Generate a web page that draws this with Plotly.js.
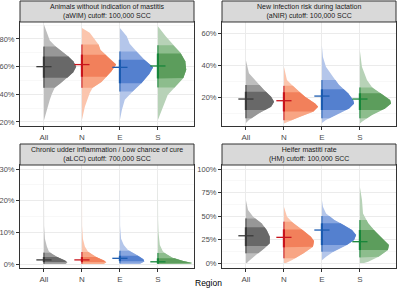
<!DOCTYPE html>
<html><head><meta charset="utf-8">
<script src="https://cdn.plot.ly/plotly-3.0.1.min.js"></script>
<style>html,body{margin:0;padding:0;background:#fff}#chart{width:400px;height:292px}</style>
</head><body><div id="chart"></div>
<script>
const regions = ['All', 'N', 'E', 'S'];
const stripTitles = [
  'Animals without indication of mastitis<br>(aWIM) cutoff: 100,000 SCC',
  'New infection risk during lactation<br>(aNIR) cutoff: 100,000 SCC',
  'Chronic udder inflammation / Low chance of cure<br>(aLCC) cutoff: 700,000 SCC',
  'Heifer mastiti rate<br>(HM) cutoff: 100,000 SCC'
];
const xTitle = 'Region';

// aWIM (%)
const aWIM_y = [
  [21, 26.5, 31, 36, 40, 44.7, 48, 52, 56, 60, 64, 67.3, 71, 74.5, 79, 84.5, 90.5],
  [21.5, 31, 41, 44.7, 49, 52.7, 56.5, 61.5, 66.5, 68.7, 72, 76, 80, 84.5, 88],
  [21.5, 28.7, 36, 42, 48, 54.7, 59.5, 65, 71, 76.6, 82, 88],
  [21.5, 31, 39.6, 45.7, 51.8, 57.8, 63.9, 70, 76, 82, 89.3]
];
const aWIM_d = [
  [0, 2, 4, 6, 8, 11, 17, 24, 30, 33, 30, 25, 18, 12, 6, 3, 0],
  [0, 3, 8, 11, 20, 25, 30, 35, 27, 24, 19, 17, 13, 8, 0],
  [0, 2, 5, 13, 22, 30, 34, 25, 17, 10, 7, 0],
  [0, 5, 10, 18, 26, 29, 28, 23, 15, 8, 0]
];
const aWIM_median = [60, 61.5, 59.5, 60.5];
const aWIM_outer = [[44.7, 74.5], [44.7, 76], [42, 71], [45, 75.5]];
const aWIM_inner = [[52, 67.3], [52.7, 68.7], [48, 65], [51.5, 69.5]];

// aNIR (%)
const aNIR_y = [
  [3.7, 5.6, 9.8, 14, 17, 20.2, 24.4, 28.5, 34.8, 43],
  [3.5, 4.6, 7.7, 10.8, 14, 16, 20.2, 24.4, 30.6, 39],
  [3.7, 5.6, 8.75, 12.9, 16, 18.1, 22.3, 27.5, 32.7, 39, 45, 52],
  [3.5, 4.6, 8.75, 12.9, 16, 18.1, 21.25, 25.4, 30.6, 39, 49]
];
const aNIR_d = [
  [0, 3, 13, 25, 28, 25, 18, 12, 3, 0],
  [0, 4, 16, 29, 34, 31, 21, 13, 3, 0],
  [0, 4, 14, 27, 32, 31, 26, 17, 11, 4, 1, 0],
  [0, 2, 12, 25, 31, 30, 23, 13, 7, 2, 0]
];
const aNIR_median = [18.75, 17.7, 20.6, 18.75];
const aNIR_outer = [[6.7, 27.5], [5.5, 27], [6.7, 30.6], [6.7, 26]];
const aNIR_inner = [[11.9, 23.3], [11, 23], [11.9, 24.8], [11.9, 22.3]];

// aLCC (%)
const aLCC_y = [
  [0, 0.5, 1.2, 2, 3, 4, 5.5, 8, 12, 29],
  [0, 0.5, 1.2, 2, 3, 4, 5.5, 8, 12, 29],
  [0, 0.8, 1.5, 2.5, 3.5, 4.5, 6, 8, 12, 29],
  [0, 0.3, 1, 2, 3, 4, 6, 10, 14, 29]
];
const aLCC_d = [
  [22, 24, 21, 15, 9, 5, 3, 1, 0.2, 0],
  [22, 25, 22, 16, 10, 6, 3, 1, 0.2, 0],
  [20, 25, 24, 19, 13, 8, 4, 1.2, 0.2, 0],
  [33, 35, 25, 15, 9, 5, 2, 0.6, 0.2, 0]
];
const aLCC_median = [1.3, 1.3, 1.8, 0.7];
const aLCC_outer = [[0.05, 3.6], [0.05, 3.8], [0.2, 4.2], [0, 3.5]];
const aLCC_inner = [[0.6, 2.2], [0.6, 2.2], [0.9, 2.6], [0.15, 1.8]];

// HM (%)
const HM_y = [
  [0, 1.4, 8.5, 15.6, 21, 28, 35.1, 42.2, 49.3, 56.4, 67],
  [0, 3.2, 10.3, 17.3, 23.4, 28, 35.1, 42.2, 49.3, 60],
  [3, 6.7, 12, 19.1, 24.5, 29.8, 35.1, 40.4, 45.7, 52.8, 60, 67],
  [0, 1.4, 6.7, 13.8, 19.1, 24.5, 33.3, 42.2, 52.8, 67, 81]
];
const HM_d = [
  [1, 2, 10, 18, 23, 23, 20, 15, 7, 2, 0],
  [2, 8, 19, 28, 29, 26, 18, 9, 3, 0],
  [0, 4, 11, 24, 31, 33, 29, 21, 12, 4, 1, 0],
  [4, 8, 18, 27, 28, 23, 15, 8, 3, 2, 0]
];
const HM_median = [29, 27.3, 35.1, 22.7];
const HM_outer = [[10.3, 47.5], [5, 44], [12, 50], [6, 45.7]];
const HM_inner = [[18, 38], [16.7, 35.8], [19.1, 42.2], [13.8, 35.1]];

// colours per region: light, mid, dark, interval line
const colLight = ['#bebebe', '#fbc5ad', '#b4c6ea', '#b7d2b7'];
const colMid   = ['#979797', '#f8a584', '#88a6df', '#8dbd8d'];
const colDark  = ['#686868', '#f2805b', '#5480cf', '#5c9d5c'];
const colLine  = ['#3a3a3a', '#c9141c', '#1b5bb0', '#17863a'];

const panels = [
  {y: aWIM_y, d: aWIM_d, med: aWIM_median, outer: aWIM_outer, inner: aWIM_inner,
   range: [17.1, 92.3], dtick: 20, minor: 10, xd: [0.05, 0.485], yd: [0.5685, 0.9247]},
  {y: aNIR_y, d: aNIR_d, med: aNIR_median, outer: aNIR_outer, inner: aNIR_inner,
   range: [1.9, 66.9], dtick: 20, minor: 10, xd: [0.555, 0.99], yd: [0.5685, 0.9247]},
  {y: aLCC_y, d: aLCC_d, med: aLCC_median, outer: aLCC_outer, inner: aLCC_inner,
   range: [-1.26, 31.3], dtick: 10, minor: 5, xd: [0.05, 0.485], yd: [0.0822, 0.4349]},
  {y: HM_y, d: HM_d, med: HM_median, outer: HM_outer, inner: HM_inner,
   range: [-5.3, 104.3], dtick: 25, minor: 12.5, xd: [0.555, 0.99], yd: [0.0822, 0.4349]}
];

function interp(ys, ds, v) {
  if (v <= ys[0]) return ds[0];
  if (v >= ys[ys.length - 1]) return ds[ds.length - 1];
  for (let k = 1; k < ys.length; k++) {
    if (v <= ys[k]) {
      const t = (v - ys[k - 1]) / (ys[k] - ys[k - 1]);
      return ds[k - 1] + t * (ds[k] - ds[k - 1]);
    }
  }
}
function bandPoly(ys, ds, lo, hi, xc, s) {
  const px = [xc], py = [lo];
  px.push(xc + interp(ys, ds, lo) * s); py.push(lo);
  for (let k = 0; k < ys.length; k++) {
    if (ys[k] > lo && ys[k] < hi) { px.push(xc + ds[k] * s); py.push(ys[k]); }
  }
  px.push(xc + interp(ys, ds, hi) * s); py.push(hi);
  px.push(xc); py.push(hi);
  px.push(xc); py.push(lo);
  return {px, py};
}

const font = 'Liberation Sans, Arial, Helvetica, sans-serif';
const traces = [];
const layout = {
  width: 400, height: 292, margin: {l: 0, r: 0, t: 0, b: 0},
  paper_bgcolor: '#ffffff', plot_bgcolor: '#ffffff', showlegend: false,
  font: {family: font, size: 7.5, color: '#4d4d4d'},
  shapes: [], annotations: []
};

panels.forEach((p, pi) => {
  const sfx = pi === 0 ? '' : String(pi + 1);
  const xa = 'x' + sfx, ya = 'y' + sfx;
  let maxD = 0;
  p.d.forEach(arr => arr.forEach(v => { if (v > maxD) maxD = v; }));
  const s = 0.9 / maxD;
  regions.forEach((r, i) => {
    const xc = i + 1;
    const ys = p.y[i], ds = p.d[i];
    const layers = [
      [ys[0], ys[ys.length - 1], colLight[i]],
      [p.outer[i][0], p.outer[i][1], colMid[i]],
      [p.inner[i][0], p.inner[i][1], colDark[i]]
    ];
    layers.forEach(([lo, hi, c]) => {
      const b = bandPoly(ys, ds, lo, hi, xc, s);
      traces.push({type: 'scatter', mode: 'lines', x: b.px, y: b.py, xaxis: xa, yaxis: ya,
        fill: 'toself', fillcolor: c, line: {width: 0, color: c}, hoverinfo: 'skip'});
    });
    traces.push({type: 'scatter', mode: 'lines', x: [xc, xc], y: p.outer[i], xaxis: xa, yaxis: ya,
      line: {width: 1, color: colLine[i]}, hoverinfo: 'skip'});
    traces.push({type: 'scatter', mode: 'lines', x: [xc, xc], y: p.inner[i], xaxis: xa, yaxis: ya,
      line: {width: 2.2, color: colLine[i]}, hoverinfo: 'skip'});
    traces.push({type: 'scatter', mode: 'lines', x: [xc - 0.2, xc + 0.2], y: [p.med[i], p.med[i]],
      xaxis: xa, yaxis: ya, line: {width: 1.3, color: colLine[i]}, hoverinfo: 'skip'});
  });
  layout['xaxis' + sfx] = {
    domain: p.xd, anchor: ya, range: [0.37, 4.95], fixedrange: true,
    tickmode: 'array', tickvals: [1, 2, 3, 4], ticktext: regions,
    showgrid: true, gridcolor: '#ebebeb', gridwidth: 1, zeroline: false,
    ticks: 'outside', ticklen: 3, tickcolor: '#333333', tickwidth: 1,
    showline: true, mirror: true, linecolor: '#333333', linewidth: 1,
    tickfont: {family: font, size: 8, color: '#4d4d4d'}
  };
  layout['yaxis' + sfx] = {
    domain: p.yd, anchor: xa, range: p.range, fixedrange: true,
    tick0: 0, dtick: p.dtick, ticksuffix: '%',
    showgrid: true, gridcolor: '#ebebeb', gridwidth: 1, zeroline: false,
    minor: {dtick: p.minor, tick0: 0, showgrid: true, gridcolor: '#f4f4f4', gridwidth: 0.6, ticks: ''},
    ticks: 'outside', ticklen: 3, tickcolor: '#333333', tickwidth: 1,
    showline: true, mirror: true, linecolor: '#333333', linewidth: 1,
    tickfont: {family: font, size: 7.5, color: '#4d4d4d'}
  };
  const top = p.yd[1], stripH = 21 / 292;
  layout.shapes.push({type: 'rect', xref: 'paper', yref: 'paper',
    x0: p.xd[0], x1: p.xd[1], y0: top, y1: top + stripH,
    fillcolor: '#d9d9d9', line: {color: '#333333', width: 1}});
  layout.annotations.push({xref: 'paper', yref: 'paper', x: (p.xd[0] + p.xd[1]) / 2,
    y: top + stripH / 2, xanchor: 'center', yanchor: 'middle', showarrow: false,
    text: stripTitles[pi], font: {family: font, size: 7, color: '#1a1a1a'}});
});

layout.annotations.push({xref: 'paper', yref: 'paper', x: 0.52, y: 9 / 292,
  xanchor: 'center', yanchor: 'middle', showarrow: false, text: xTitle,
  font: {family: font, size: 8.5, color: '#000000'}});

Plotly.newPlot('chart', traces, layout, {staticPlot: true, displayModeBar: false});
</script></body></html>
